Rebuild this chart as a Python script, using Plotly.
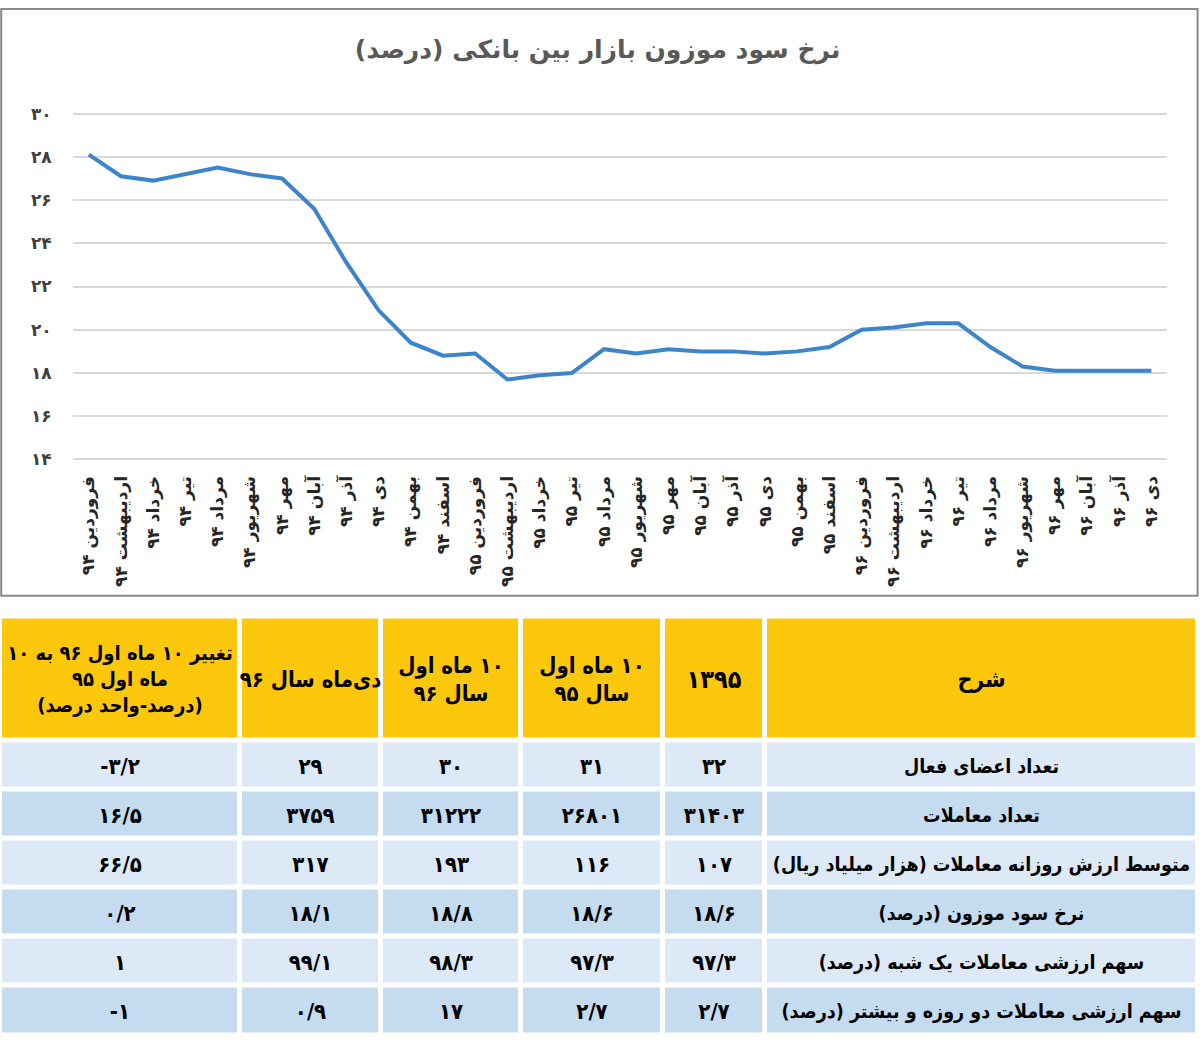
import plotly.graph_objects as go

FONT = "DejaVu Sans"
TFONT = "DejaVu Sans Condensed, DejaVu Sans"
RLM = "\u200F"

# ---------------- data ----------------
month_names = ["فروردین", "اردیبهشت", "خرداد", "تیر", "مرداد", "شهریور",
               "مهر", "آبان", "آذر", "دی", "بهمن", "اسفند"]
years = [94] * 12 + [95] * 12 + [96] * 10
rate = [28.1, 27.1, 26.9, 27.2, 27.5, 27.2, 27.0, 25.6, 23.1, 20.9, 19.4, 18.8,
        18.9, 17.7, 17.9, 18.0, 19.1, 18.9, 19.1, 19.0, 19.0, 18.9, 19.0, 19.2,
        20.0, 20.1, 20.3, 20.3, 19.2, 18.3, 18.1, 18.1, 18.1, 18.1]
y_ticks = [14, 16, 18, 20, 22, 24, 26, 28, 30]

title_text = "نرخ سود موزون بازار بین بانکی (درصد)"

row_labels = ["تعداد اعضای فعال",
              "تعداد معاملات",
              "متوسط ارزش روزانه معاملات (هزار میلیاد ریال)",
              "نرخ سود موزون (درصد)",
              "سهم ارزشی معاملات یک شبه (درصد)",
              "سهم ارزشی معاملات دو روزه و بیشتر (درصد)"]
col_1395 = [32, 31403, 107, 18.6, 97.3, 2.7]
col_10m95 = [31, 26801, 116, 18.6, 97.3, 2.7]
col_10m96 = [30, 31222, 193, 18.8, 98.3, 17]
col_dey96 = [29, 3759, 317, 18.1, 99.1, 0.9]
col_change = [-3.2, 16.5, 66.5, 0.2, 1, -1]

headers = [
    ["تغییر ۱۰ ماه اول ۹۶ به ۱۰", "ماه اول ۹۵", "(درصد-واحد درصد)"],
    ["دی‌ماه سال ۹۶"],
    ["۱۰ ماه اول", "سال ۹۶"],
    ["۱۰ ماه اول", "سال ۹۵"],
    ["۱۳۹۵"],
    ["شرح"],
]

# table geometry / styles (layout, in pixels)
col_edges = [0, 240, 381, 521, 663, 765, 1198]
header_sizes = [20, 22, 22, 22, 25, 23]
HEADER_H = 126
ROW_H = 49.8
TABLE_H = 425
TEXT_DROP = 3

# ---------------- helpers ----------------
FA = str.maketrans("0123456789.", "۰۱۲۳۴۵۶۷۸۹/")


def fa(v):
    return str(v).translate(FA)


def rtl(s):
    return RLM + s + RLM if s else ""


x_idx = list(range(len(rate)))
x_labels = [rtl(month_names[i % 12] + " " + fa(y)) for i, y in enumerate(years)]

fig = go.Figure()

fig.add_trace(go.Scatter(
    x=x_idx, y=rate, mode="lines",
    line=dict(color="#3d85cb", width=4),
    hoverinfo="skip", showlegend=False,
))

# ---- table: heatmap bricks + centred text ----
n_rows = len(row_labels)
row_edges = [0, HEADER_H] + [HEADER_H + ROW_H * (i + 1) for i in range(n_rows)]
row_edges[-1] = max(row_edges[-1], TABLE_H)
cols = [col_change, col_dey96, col_10m96, col_10m95, col_1395]

z = [[2] * 6] + [[r % 2] * 6 for r in range(n_rows)]
fig.add_trace(go.Heatmap(
    x=col_edges, y=row_edges, z=z,
    colorscale=[[0, "#dde9f6"], [0.25, "#dde9f6"], [0.25, "#c5dbf0"], [0.75, "#c5dbf0"],
                [0.75, "#fdc80c"], [1, "#fdc80c"]],
    zmin=0, zmax=2, showscale=False, xgap=5, ygap=5, hoverinfo="skip",
    xaxis="x2", yaxis="y2",
))

x_mid = [(col_edges[i] + col_edges[i + 1]) / 2 for i in range(6)]
y_mid = [(row_edges[i] + row_edges[i + 1]) / 2 + TEXT_DROP for i in range(n_rows + 1)]
y_mid[-1] = HEADER_H + ROW_H * (n_rows - 0.5) + TEXT_DROP
tx, ty, tt, ts = [], [], [], []
for c in range(6):
    tx.append(x_mid[c]); ty.append(y_mid[0])
    tt.append("<b>" + "<br>".join(rtl(l) for l in headers[c]) + "</b>")
    ts.append(header_sizes[c])
for r in range(n_rows):
    for c in range(5):
        tx.append(x_mid[c]); ty.append(y_mid[r + 1])
        tt.append("<b>" + fa(cols[c][r]) + "</b>")
        ts.append(22)
    tx.append(x_mid[5]); ty.append(y_mid[r + 1])
    tt.append("<b>" + rtl(row_labels[r]) + "</b>")
    ts.append(19.5)

fig.add_trace(go.Scatter(
    x=tx, y=ty, text=tt, mode="text", textposition="middle center",
    textfont=dict(family=TFONT, size=ts, color="black"),
    hoverinfo="skip", showlegend=False, xaxis="x2", yaxis="y2",
))

fig.update_layout(
    width=1200, height=1043,
    margin=dict(l=0, r=0, t=0, b=0),
    paper_bgcolor="white", plot_bgcolor="white",
    font=dict(family=FONT),
    title=dict(text=rtl(title_text), x=0.498, xanchor="center", y=0.953, yanchor="middle",
               font=dict(family=FONT, size=25, color="#595959", weight="bold")),
    xaxis=dict(domain=[0.0606, 0.9729], range=[-0.5, len(rate) - 0.5],
               tickmode="array", tickvals=x_idx, ticktext=x_labels, tickangle=-90,
               showgrid=False, zeroline=False, showline=False, ticks="",
               ticklabelstandoff=10,
               tickfont=dict(family=FONT, size=17, color="#262626", weight="bold")),
    yaxis=dict(domain=[0.5583, 0.8993], range=[13.9, 30.1],
               tickmode="array", tickvals=y_ticks, ticktext=[fa(t) for t in y_ticks],
               showgrid=True, gridcolor="#d9d9d9", gridwidth=1.5,
               zeroline=False, showline=False, ticks="", ticklabelstandoff=20,
               tickfont=dict(family=FONT, size=17, color="#404040", weight="bold")),
    xaxis2=dict(domain=[0, 1], range=[0, 1200], visible=False, anchor="y2"),
    yaxis2=dict(domain=[0, 0.4075], range=[TABLE_H, 0], visible=False, anchor="x2"),
    shapes=[dict(type="rect", xref="paper", yref="paper",
                 x0=0.001, x1=0.998, y0=0.4276, y1=0.999,
                 line=dict(color="#8a8a8a", width=2), fillcolor="rgba(0,0,0,0)",
                 layer="below")],
)

fig.write_html("out.html", config={"displayModeBar": False},
               post_script="document.body.style.margin='0';")
